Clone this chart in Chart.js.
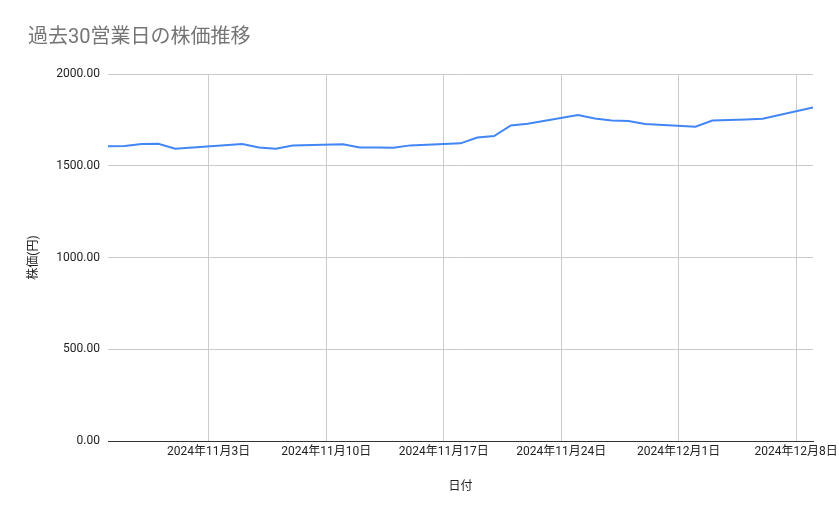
<!DOCTYPE html>
<html>
<head>
<meta charset="utf-8">
<script src="https://cdn.jsdelivr.net/npm/chart.js@4"></script>
<style>
  body { margin: 0; background: #fff; }
  #wrap { width: 839px; height: 519px; position: relative; }
</style>
</head>
<body>
<div id="wrap"><canvas id="stockChart"></canvas></div>
<script>
// 日付 (営業日)
const dates = [
    '2024-10-28', '2024-10-29', '2024-10-30', '2024-10-31', '2024-11-01',
    '2024-11-05', '2024-11-06', '2024-11-07', '2024-11-08',
    '2024-11-11', '2024-11-12', '2024-11-13', '2024-11-14', '2024-11-15',
    '2024-11-18', '2024-11-19', '2024-11-20', '2024-11-21', '2024-11-22',
    '2024-11-25', '2024-11-26', '2024-11-27', '2024-11-28', '2024-11-29',
    '2024-12-02', '2024-12-03', '2024-12-04', '2024-12-05', '2024-12-06',
    '2024-12-09'
];

// 株価(円)
const prices = [
    1606, 1608, 1618, 1620, 1593,
    1618, 1600, 1593, 1610,
    1617, 1600, 1599, 1598, 1611,
    1622, 1654, 1662, 1720, 1729,
    1777, 1757, 1747, 1744, 1727,
    1713, 1746, 1749, 1752, 1756,
    1818
];

// x軸の範囲と目盛り
const axisStart = '2024-10-28';
const axisEnd = '2024-12-09';
const tickDates = ['2024-11-03', '2024-11-10', '2024-11-17', '2024-11-24', '2024-12-01', '2024-12-08'];

const yTicks = [0, 500, 1000, 1500, 2000];

function toDay(str) {
    const [y, m, d] = str.split('-').map(Number);
    const base = axisStart.split('-').map(Number);
    return (Date.UTC(y, m - 1, d) - Date.UTC(base[0], base[1] - 1, base[2])) / 86400000;
}

function formatDay(day) {
    const base = axisStart.split('-').map(Number);
    const dt = new Date(Date.UTC(base[0], base[1] - 1, base[2]) + day * 86400000);
    return `${dt.getUTCFullYear()}年${dt.getUTCMonth() + 1}月${dt.getUTCDate()}日`;
}

const points = dates.map((d, i) => ({ x: toDay(d), y: prices[i] }));

Chart.defaults.font.family = "Roboto, Arial, 'Noto Sans CJK JP', sans-serif";
Chart.defaults.color = '#222';

const ctx = document.getElementById('stockChart').getContext('2d');
new Chart(ctx, {
    type: 'line',
    data: {
        datasets: [{
            label: '株価',
            data: points,
            borderColor: '#4285F4',
            borderWidth: 2,
            pointRadius: 0,
            tension: 0,
            fill: false
        }]
    },
    options: {
        responsive: true,
        maintainAspectRatio: false,
        animation: false,
        layout: { padding: { left: 28, right: 26, top: 0, bottom: 0 } },
        plugins: {
            legend: { display: false },
            tooltip: { enabled: false },
            title: {
                display: true,
                text: '過去30営業日の株価推移',
                align: 'start',
                color: '#757575',
                font: { size: 20, weight: 'normal' },
                padding: { top: 26, bottom: 24 }
            }
        },
        scales: {
            x: {
                type: 'linear',
                min: toDay(axisStart),
                max: toDay(axisEnd),
                afterBuildTicks: scale => {
                    scale.ticks = tickDates.map(d => ({ value: toDay(d) }));
                },
                afterFit: scale => {
                    scale.height = 78;
                    // the last label may hang past the plot edge, as in the original
                    scale.paddingLeft = 0;
                    scale.paddingRight = 0;
                },
                ticks: {
                    autoSkip: false,
                    maxRotation: 0,
                    padding: 4,
                    font: { size: 12 },
                    callback: v => formatDay(v)
                },
                grid: { color: '#cccccc', drawTicks: false },
                border: { display: true, color: '#333333', width: 1 },
                title: {
                    display: true,
                    text: '日付',
                    font: { size: 12 },
                    padding: { top: 4, bottom: 25 }
                }
            },
            y: {
                min: 0,
                max: 2000,
                afterBuildTicks: scale => {
                    scale.ticks = yTicks.map(v => ({ value: v }));
                },
                afterFit: scale => { scale.width = 80; },
                ticks: {
                    padding: 8,
                    font: { size: 12 },
                    callback: v => v.toFixed(2)
                },
                grid: { color: '#cccccc', drawTicks: false },
                border: { display: false },
                title: {
                    display: true,
                    text: '株価(円)',
                    font: { size: 12, lineHeight: 1 },
                    padding: { top: 0, bottom: 4 }
                }
            }
        }
    }
});
</script>
</body>
</html>
